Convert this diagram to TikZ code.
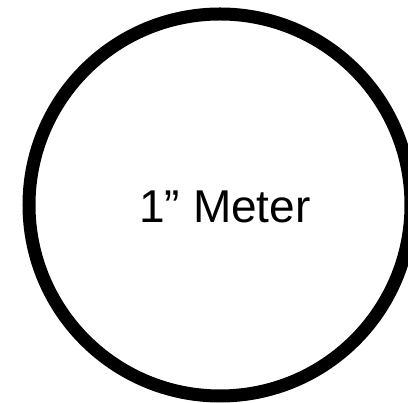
\documentclass[tikz,border=0pt]{standalone}
\usepackage{fontspec}
\setmainfont{Liberation Sans}
\tikzset{ring/.style={draw=black,line width=13pt,fill=white},
 label/.style={font=\fontsize{46pt}{50pt}\selectfont,inner sep=0pt,anchor=base}}
\begin{document}
\begin{tikzpicture}[x=1pt,y=1pt]
\useasboundingbox (0,0) rectangle (408,403);
\fill[white] (0,0) rectangle (408,403);
\clip (0,0) rectangle (408,403);
\node[ring,circle,minimum size=382pt,inner sep=0pt] (meter) at (220,198) {};
\node[label] (txt) at (225,180) {1” Meter};
\end{tikzpicture}
\end{document}
